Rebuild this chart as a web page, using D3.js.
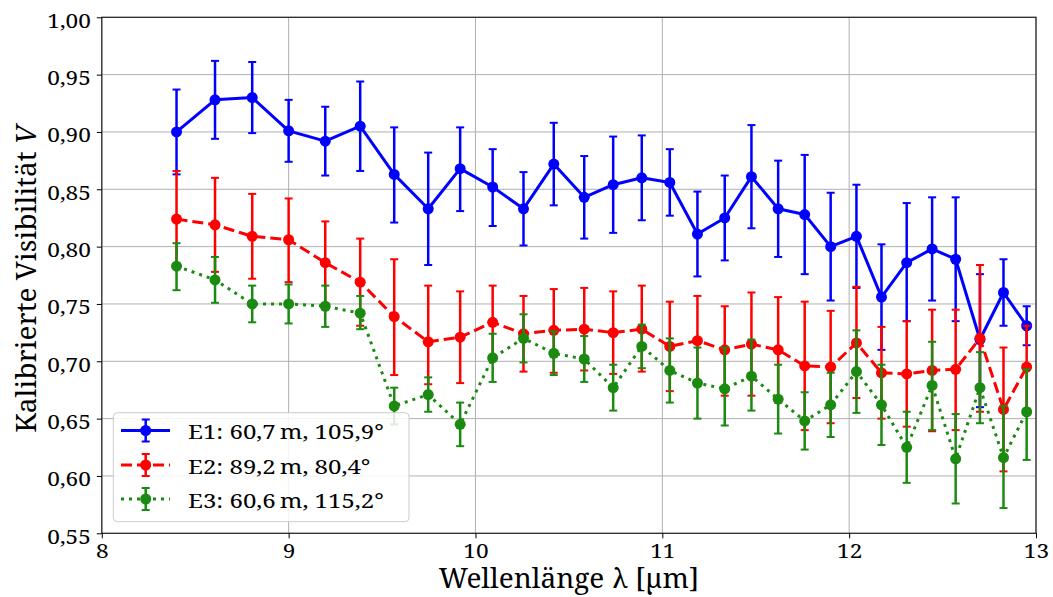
<!DOCTYPE html>
<html>
<head>
<meta charset="utf-8">
<script src="https://cdn.jsdelivr.net/npm/d3@7"></script>
<style>
  html, body { margin: 0; padding: 0; background: #fff; }
  svg { display: block; }
  svg text { font-family: "Noto Serif", "DejaVu Serif Condensed", "Liberation Serif", serif; }
</style>
</head>
<body>
<svg id="chart" width="1053" height="597"></svg>
<script>
// ---- data ----
const wavelengths = [8.40, 8.606, 8.805, 9.00, 9.196, 9.383, 9.565, 9.747, 9.918, 10.092,
  10.257, 10.419, 10.582, 10.737, 10.890, 11.040, 11.188, 11.334, 11.477, 11.620,
  11.762, 11.901, 12.039, 12.173, 12.308, 12.444, 12.570, 12.700, 12.826, 12.950];

const e1Values = [0.900, 0.928, 0.930, 0.901, 0.892, 0.905, 0.863, 0.833, 0.868, 0.852,
  0.833, 0.872, 0.843, 0.854, 0.860, 0.856, 0.811, 0.825, 0.861, 0.833,
  0.828, 0.800, 0.809, 0.756, 0.786, 0.798, 0.789, 0.719, 0.760, 0.731];
const e1ErrUp = [0.037, 0.034, 0.031, 0.027, 0.030, 0.039, 0.041, 0.049, 0.036, 0.033,
  0.032, 0.036, 0.036, 0.042, 0.037, 0.029, 0.037, 0.037, 0.045, 0.042,
  0.052, 0.047, 0.045, 0.046, 0.052, 0.045, 0.054, 0.057, 0.029, 0.017];
const e1ErrDown = [0.037, 0.034, 0.031, 0.027, 0.030, 0.039, 0.042, 0.049, 0.037, 0.034,
  0.032, 0.036, 0.036, 0.042, 0.037, 0.029, 0.037, 0.037, 0.045, 0.042,
  0.052, 0.047, 0.045, 0.046, 0.051, 0.045, 0.054, 0.059, 0.029, 0.017];

const e2Values = [0.824, 0.819, 0.809, 0.806, 0.786, 0.769, 0.739, 0.717, 0.721, 0.734,
  0.724, 0.727, 0.728, 0.725, 0.728, 0.713, 0.718, 0.710, 0.715, 0.710,
  0.696, 0.695, 0.716, 0.690, 0.689, 0.692, 0.693, 0.720, 0.658, 0.695];
const e2ErrUp = [0.042, 0.041, 0.037, 0.036, 0.036, 0.038, 0.050, 0.049, 0.040, 0.032,
  0.033, 0.036, 0.036, 0.036, 0.038, 0.039, 0.039, 0.038, 0.045, 0.046,
  0.056, 0.049, 0.049, 0.040, 0.046, 0.053, 0.052, 0.064, 0.054, 0.036];
const e2ErrDown = [0.042, 0.041, 0.037, 0.037, 0.036, 0.038, 0.051, 0.037, 0.040, 0.033,
  0.033, 0.037, 0.036, 0.036, 0.037, 0.039, 0.039, 0.040, 0.045, 0.046,
  0.056, 0.049, 0.048, 0.040, 0.046, 0.053, 0.053, 0.064, 0.054, 0.038];

const e3Values = [0.783, 0.771, 0.750, 0.750, 0.748, 0.742, 0.661, 0.671, 0.645, 0.703,
  0.720, 0.707, 0.702, 0.677, 0.713, 0.692, 0.681, 0.676, 0.687, 0.667,
  0.648, 0.662, 0.691, 0.662, 0.625, 0.679, 0.615, 0.677, 0.616, 0.656];
const e3ErrUp = [0.020, 0.020, 0.016, 0.017, 0.018, 0.015, 0.016, 0.015, 0.019, 0.021,
  0.021, 0.019, 0.020, 0.020, 0.019, 0.028, 0.031, 0.036, 0.032, 0.030,
  0.025, 0.028, 0.036, 0.035, 0.031, 0.038, 0.039, 0.031, 0.045, 0.037];
const e3ErrDown = [0.021, 0.020, 0.016, 0.017, 0.018, 0.014, 0.016, 0.015, 0.019, 0.021,
  0.021, 0.019, 0.020, 0.020, 0.019, 0.028, 0.031, 0.032, 0.030, 0.030,
  0.025, 0.028, 0.036, 0.035, 0.031, 0.039, 0.039, 0.031, 0.044, 0.042];

const seriesLabels = ["E1: 60,7\u2009m, 105,9°", "E2: 89,2\u2009m, 80,4°", "E3: 60,6\u2009m, 115,2°"];
const seriesColors = ["#0000ff", "#ff0000", "#1a8a10"];
const seriesDashes = [null, "11,5", "3,5"];

const xTicks = [8, 9, 10, 11, 12, 13];
const yTicks = [0.55, 0.60, 0.65, 0.70, 0.75, 0.80, 0.85, 0.90, 0.95, 1.00];
const xDomain = [8, 13];
const yDomain = [0.55, 1.00];

// ---- layout ----
const plot = { left: 101.8, right: 1036, top: 17.3, bottom: 533.3 };

const svg = d3.select("#chart");
const x = d3.scaleLinear().domain(xDomain).range([plot.left, plot.right]);
const y = d3.scaleLinear().domain(yDomain).range([plot.bottom, plot.top]);

const fmt = d => d3.format(".2f")(d).replace(".", ",");

// grid
const grid = svg.append("g");
grid.selectAll("line.gx").data(xTicks).join("line")
  .attr("x1", d => x(d)).attr("x2", d => x(d))
  .attr("y1", plot.top).attr("y2", plot.bottom)
  .attr("stroke", "#b0b0b0").attr("stroke-width", 1);
grid.selectAll("line.gy").data(yTicks).join("line")
  .attr("x1", plot.left).attr("x2", plot.right)
  .attr("y1", d => y(d)).attr("y2", d => y(d))
  .attr("stroke", "#b0b0b0").attr("stroke-width", 1);

// series
const series = [
  { v: e1Values, up: e1ErrUp, dn: e1ErrDown },
  { v: e2Values, up: e2ErrUp, dn: e2ErrDown },
  { v: e3Values, up: e3ErrUp, dn: e3ErrDown }
];

const capHalf = 4;
const line = d3.line().x(d => x(d.x)).y(d => y(d.v));

series.forEach((s, i) => {
  const pts = wavelengths.map((w, j) => ({ x: w, v: s.v[j], up: s.up[j], dn: s.dn[j] }));
  const g = svg.append("g");
  const col = seriesColors[i];
  const p = g.append("path").datum(pts)
    .attr("d", line).attr("fill", "none")
    .attr("stroke", col).attr("stroke-width", 3)
    .attr("stroke-linejoin", "round");
  if (seriesDashes[i]) p.attr("stroke-dasharray", seriesDashes[i]);
  g.selectAll("line.bar").data(pts).join("line")
    .attr("x1", d => x(d.x)).attr("x2", d => x(d.x))
    .attr("y1", d => y(d.v + d.up)).attr("y2", d => y(d.v - d.dn))
    .attr("stroke", col).attr("stroke-width", 2.5);
  g.selectAll("line.capt").data(pts).join("line")
    .attr("x1", d => x(d.x) - capHalf).attr("x2", d => x(d.x) + capHalf)
    .attr("y1", d => y(d.v + d.up)).attr("y2", d => y(d.v + d.up))
    .attr("stroke", col).attr("stroke-width", 2);
  g.selectAll("line.capb").data(pts).join("line")
    .attr("x1", d => x(d.x) - capHalf).attr("x2", d => x(d.x) + capHalf)
    .attr("y1", d => y(d.v - d.dn)).attr("y2", d => y(d.v - d.dn))
    .attr("stroke", col).attr("stroke-width", 2);
  g.selectAll("circle").data(pts).join("circle")
    .attr("cx", d => x(d.x)).attr("cy", d => y(d.v))
    .attr("r", 5.5).attr("fill", col);
});

// frame
svg.append("rect")
  .attr("x", plot.left).attr("y", plot.top)
  .attr("width", plot.right - plot.left).attr("height", plot.bottom - plot.top)
  .attr("fill", "none").attr("stroke", "#222").attr("stroke-width", 1.2);

// axes
const xAxis = svg.append("g").attr("transform", `translate(0,${plot.bottom})`)
  .call(d3.axisBottom(x).tickValues(xTicks).tickSize(5).tickPadding(6).tickFormat(d3.format("d")));
const yAxis = svg.append("g").attr("transform", `translate(${plot.left},0)`)
  .call(d3.axisLeft(y).tickValues(yTicks).tickSize(5).tickPadding(6).tickFormat(fmt));
[xAxis, yAxis].forEach(a => {
  a.attr("font-family", null).attr("font-size", null);
  a.select(".domain").remove();
  a.selectAll("line").attr("stroke", "#000").attr("stroke-width", 1);
  a.selectAll("text").attr("font-size", 20).attr("fill", "#000");
});
yAxis.selectAll("text").attr("dy", "0.5em");
// widen tick glyphs slightly to match the reference face
[xAxis, yAxis].forEach(a => a.selectAll("text").each(function () {
  const w = this.getComputedTextLength();
  d3.select(this).attr("textLength", w * 1.13).attr("lengthAdjust", "spacingAndGlyphs");
}));

// axis labels
svg.append("text")
  .attr("x", (plot.left + plot.right) / 2).attr("y", 588)
  .attr("text-anchor", "middle").attr("font-size", 28)
  .text("Wellenlänge λ [µm]");
const yl = svg.append("text")
  .attr("transform", `translate(36,279) rotate(-90)`)
  .attr("text-anchor", "middle").attr("font-size", 28);
yl.append("tspan").text("Kalibrierte Visibilität ");
yl.append("tspan").attr("font-style", "italic").text("V");

// legend
const leg = svg.append("g");
leg.append("rect")
  .attr("x", 113.3).attr("y", 412.7).attr("width", 295.7).attr("height", 109)
  .attr("rx", 4).attr("ry", 4)
  .attr("fill", "rgba(255,255,255,0.85)").attr("stroke", "#cccccc").attr("stroke-width", 1);
const legRows = [430.5, 465, 499];
seriesLabels.forEach((lab, i) => {
  const cy = legRows[i];
  const col = seriesColors[i];
  const row = leg.append("g");
  const hl = row.append("line").attr("x1", 121).attr("x2", 170).attr("y1", cy).attr("y2", cy)
    .attr("stroke", col).attr("stroke-width", 3);
  if (seriesDashes[i]) hl.attr("stroke-dasharray", seriesDashes[i]);
  row.append("line").attr("x1", 145.7).attr("x2", 145.7).attr("y1", cy - 11).attr("y2", cy + 11)
    .attr("stroke", col).attr("stroke-width", 2.5);
  [cy - 11, cy + 11].forEach(yy => row.append("line")
    .attr("x1", 141.7).attr("x2", 149.7).attr("y1", yy).attr("y2", yy)
    .attr("stroke", col).attr("stroke-width", 2));
  row.append("circle").attr("cx", 145.7).attr("cy", cy).attr("r", 5.5).attr("fill", col);
  const t = row.append("text").attr("x", 188).attr("y", cy + 8.5).attr("font-size", 20).text(lab);
  const w = t.node().getComputedTextLength();
  t.attr("textLength", Math.min(w * 1.2, 212)).attr("lengthAdjust", "spacingAndGlyphs");
});
</script>
</body>
</html>
